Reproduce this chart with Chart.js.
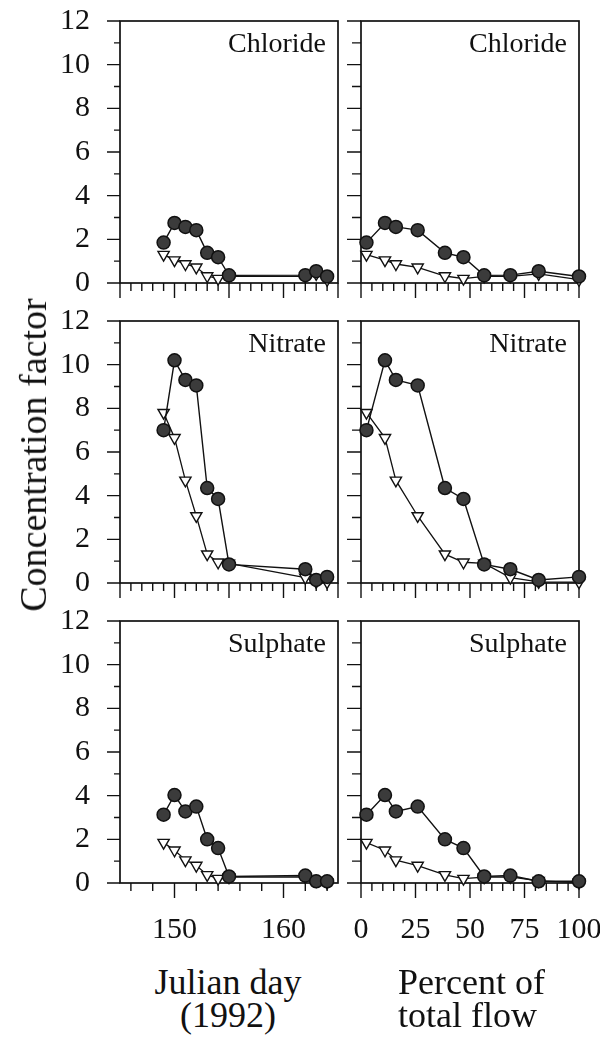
<!DOCTYPE html>
<html>
<head>
<meta charset="utf-8">
<script src="https://cdn.jsdelivr.net/npm/chart.js@4.4.1/dist/chart.umd.min.js"></script>
<style>
  body { margin: 0; background: #fff; }
  #wrap { position: relative; width: 600px; height: 1038px; overflow: hidden;
          font-family: 'Liberation Serif', 'Times New Roman', serif; color: #111; }
  canvas { position: absolute; }
  .lbl { position: absolute; white-space: nowrap; }
</style>
</head>
<body>
<div id="wrap">
  <canvas id="c0" width="350" height="300" style="left:0;top:0"></canvas>
  <canvas id="c1" width="262" height="300" style="left:340px;top:0"></canvas>
  <canvas id="c2" width="350" height="300" style="left:0;top:300px"></canvas>
  <canvas id="c3" width="262" height="300" style="left:340px;top:300px"></canvas>
  <canvas id="c4" width="350" height="360" style="left:0;top:600px"></canvas>
  <canvas id="c5" width="262" height="360" style="left:340px;top:600px"></canvas>

  <div class="lbl" style="left:33px;top:455px;font-size:38px;line-height:1;transform:translate(-50%,-50%) rotate(-90deg)">Concentration factor</div>
  <div class="lbl" style="left:228px;top:966px;font-size:36px;line-height:33px;text-align:center;transform:translateX(-50%)">Julian day<br>(1992)</div>
  <div class="lbl" style="left:398px;top:966px;font-size:36px;line-height:33px">Percent of<br>total flow</div>
</div>

<script>
// sampling positions (same samples on both x-axes)
const julianDays = [149, 150, 151, 152, 153, 154, 155, 162, 163, 164];
const flowPercent = [2.5, 11, 16, 26, 38.5, 47, 56.5, 68.5, 81.5, 100];

// concentration factors: filled circles / open triangles
const chlorideCirc = [1.85, 2.75, 2.57, 2.42, 1.38, 1.18, 0.35, 0.36, 0.54, 0.3];
const chlorideTri  = [1.3, 1.05, 0.87, 0.72, 0.32, 0.2, 0.3, 0.3, 0.42, 0.15];
const nitrateCirc  = [7.0, 10.2, 9.3, 9.05, 4.35, 3.85, 0.85, 0.63, 0.14, 0.28];
const nitrateTri   = [7.8, 6.65, 4.7, 3.07, 1.32, 0.95, 0.9, 0.25, 0.05, 0.04];
const sulphateCirc = [3.13, 4.03, 3.28, 3.5, 2.0, 1.6, 0.3, 0.34, 0.08, 0.08];
const sulphateTri  = [1.85, 1.5, 1.05, 0.8, 0.37, 0.2, 0.27, 0.28, 0.1, 0.02];

const ions = ['Chloride', 'Nitrate', 'Sulphate'];
const circSeries = [chlorideCirc, nitrateCirc, sulphateCirc];
const triSeries = [chlorideTri, nitrateTri, sulphateTri];

const dayLabels = [150, 160];
const flowLabels = [0, 25, 50, 75, 100];
const yLabels = [0, 2, 4, 6, 8, 10, 12];

const FONT = "'Liberation Serif', 'Times New Roman', serif";
const INK = '#111';

// frame box + outward tick marks (major long, minor short)
const frame = {
  id: 'frame',
  beforeDatasetsDraw(chart, args, o) {
    const { ctx, chartArea: a, scales: { x, y } } = chart;
    ctx.save();
    ctx.strokeStyle = INK;
    ctx.lineWidth = 1.7;
    ctx.strokeRect(a.left, a.top, a.right - a.left, a.bottom - a.top);
    ctx.lineWidth = 1.4;
    ctx.beginPath();
    x.ticks.forEach(t => {
      const px = x.getPixelForValue(t.value);
      const len = t.value % o.xMajor === 0 ? 15 : 8;
      ctx.moveTo(px, a.bottom);
      ctx.lineTo(px, a.bottom + len);
    });
    y.ticks.forEach(t => {
      const py = y.getPixelForValue(t.value);
      const len = t.value % 2 === 0 ? o.yLong : o.yShort;
      ctx.moveTo(a.left, py);
      ctx.lineTo(a.left - len, py);
    });
    ctx.stroke();
    ctx.restore();
  }
};

// panel title in the upper right corner
const ionTitle = {
  id: 'ionTitle',
  afterDraw(chart, args, o) {
    const { ctx, chartArea: a } = chart;
    ctx.save();
    ctx.font = '28px ' + FONT;
    ctx.fillStyle = INK;
    ctx.textAlign = 'right';
    ctx.textBaseline = 'alphabetic';
    ctx.fillText(o.text, a.right - 12, a.top + 31);
    ctx.restore();
  }
};

function makePanel(idx) {
  const row = Math.floor(idx / 2);
  const col = idx % 2;
  const xs = col === 0 ? julianDays : flowPercent;
  const bottomRow = row === 2;

  const xScale = col === 0
    ? { min: 145, max: 165, step: row === 2 ? 2 : 1, major: row === 2 ? 10 : 5, labels: dayLabels }
    : { min: 0, max: 100, step: 5, major: 25, labels: flowLabels };

  const circles = xs.map((v, i) => ({ x: v, y: circSeries[row][i] }));
  const triangles = xs.map((v, i) => ({ x: v, y: triSeries[row][i] }));

  new Chart(document.getElementById('c' + idx), {
    type: 'line',
    data: {
      datasets: [
        {
          data: circles,
          order: 0,
          borderColor: INK,
          borderWidth: 1.4,
          pointStyle: 'circle',
          pointRadius: 6.5,
          pointBackgroundColor: '#3b3b3b',
          pointBorderColor: INK,
          pointBorderWidth: 1.5,
          clip: false
        },
        {
          data: triangles,
          order: 1,
          borderColor: INK,
          borderWidth: 1.3,
          pointStyle: 'triangle',
          pointRotation: 180,
          pointRadius: 6.5,
          pointBackgroundColor: '#fff',
          pointBorderColor: INK,
          pointBorderWidth: 1.4,
          clip: false
        }
      ]
    },
    options: {
      responsive: false,
      animation: false,
      layout: { padding: { left: 0, top: 21, right: col === 0 ? 12 : 23, bottom: 0 } },
      plugins: {
        legend: { display: false },
        tooltip: { enabled: false },
        frame: { xMajor: xScale.major, yLong: col === 0 ? 13 : 14, yShort: col === 0 ? 6 : 9 },
        ionTitle: { text: ions[row] }
      },
      scales: {
        x: {
          type: 'linear',
          min: xScale.min,
          max: xScale.max,
          grid: { display: false, drawTicks: false },
          border: { display: false },
          ticks: {
            display: bottomRow,
            autoSkip: false,
            maxRotation: 0,
            padding: 29,
            color: INK,
            font: { family: FONT, size: 30 },
            callback: v => xScale.labels.includes(v) ? String(v) : ''
          },
          // ticks on whole multiples of the step (e.g. every 2nd day)
          afterBuildTicks: s => {
            const t = [];
            for (let v = Math.ceil(xScale.min / xScale.step) * xScale.step; v <= xScale.max; v += xScale.step) {
              t.push({ value: v });
            }
            s.ticks = t;
          },
          afterFit: s => {
            s.height = bottomRow ? 77 : 17;
            s.paddingLeft = 0; s.paddingRight = 0;
          }
        },
        y: {
          min: 0,
          max: 12,
          grid: { display: false, drawTicks: false },
          border: { display: false },
          ticks: {
            display: col === 0,
            stepSize: 1,
            autoSkip: false,
            padding: 30,
            color: INK,
            font: { family: FONT, size: 30 },
            callback: v => yLabels.includes(v) ? String(v) : ''
          },
          afterFit: s => {
            s.width = col === 0 ? 120 : 21;
            s.paddingTop = 0; s.paddingBottom = 0;
          }
        }
      }
    },
    plugins: [frame, ionTitle]
  });
}

for (let i = 0; i < 6; i++) makePanel(i);
</script>
</body>
</html>
